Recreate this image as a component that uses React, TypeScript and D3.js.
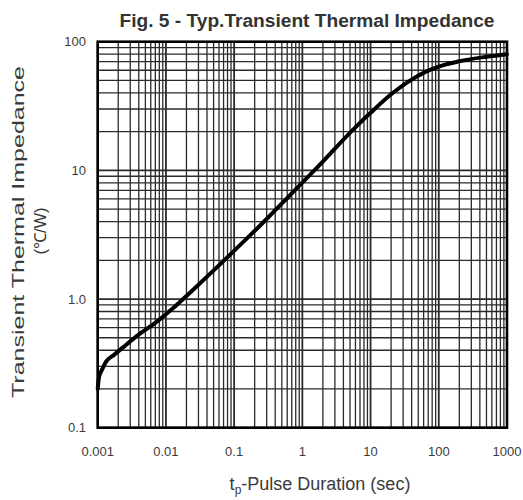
import React from "react";
import * as d3 from "d3";

const pulseDuration: number[] = [0.001, 0.00105, 0.00115, 0.00135, 0.0017, 0.0024, 0.0042, 0.0073, 0.0128, 0.0225, 0.0774, 0.315, 0.655, 1.5, 6.2, 10, 20, 35, 65, 100, 200, 500, 1000];
const impedance: number[] = [0.2, 0.25, 0.28, 0.33, 0.365, 0.425, 0.54, 0.665, 0.85, 1.12, 2.08, 4.3, 6.4, 10, 22, 28, 39, 48.5, 58.5, 64, 70.5, 76.4, 80];

const xTickValues: number[] = [0.001, 0.01, 0.1, 1, 10, 100, 1000];
const xTickLabels: string[] = ["0.001", "0.01", "0.1", "1", "10", "100", "1000"];
const yTickValues: number[] = [0.1, 1, 10, 100];
const yTickLabels: string[] = ["0.1", "1.0", "10", "100"];

const title = "Fig. 5 - Typ.Transient Thermal Impedance";
const yLabel1 = "Transient Thermal Impedance";
const yLabel2 = "(\u2103/W)";

export default function App() {
  const W = 523, H = 500;
  const left = 97.7, right = 507, top = 41.7, bottom = 427.7;
  const x = d3.scaleLog().domain([0.001, 1000]).range([left, right]);
  const y = d3.scaleLog().domain([0.1, 100]).range([bottom, top]);

  const xGrid: { v: number; major: boolean }[] = [];
  for (let e = -3; e < 3; e++) {
    for (let m = 1; m <= 9; m++) xGrid.push({ v: m * Math.pow(10, e), major: m === 1 });
  }
  const yGrid: { v: number; major: boolean }[] = [];
  for (let e = -1; e < 2; e++) {
    for (let m = 1; m <= 9; m++) yGrid.push({ v: m * Math.pow(10, e), major: m === 1 });
  }

  const line = d3
    .line<number>()
    .x((_, i) => x(pulseDuration[i]))
    .y((d) => y(d))
    .curve(d3.curveMonotoneX);

  const textColor = "#3a3a3a";

  return (
    <svg width={W} height={H} style={{ position: "absolute", left: 0, top: 0, background: "#fff" }} fontFamily="Liberation Sans, Arial, sans-serif">
      <rect width={W} height={H} fill="#fff" />
      <text x={307} y={27} textAnchor="middle" fontSize={17.5} fontWeight="bold" fill="#333" textLength={375} lengthAdjust="spacingAndGlyphs">{title}</text>
      {xGrid.map((g, i) => (
        <line key={"xg" + i} x1={x(g.v)} x2={x(g.v)} y1={top} y2={bottom} stroke="#2a2a2a" strokeWidth={g.major ? 1.8 : 1.3} />
      ))}
      {yGrid.map((g, i) => (
        <line key={"yg" + i} x1={left} x2={right} y1={y(g.v)} y2={y(g.v)} stroke="#2a2a2a" strokeWidth={g.major ? 1.8 : 1.3} />
      ))}
      <rect x={left} y={top} width={right - left} height={bottom - top} fill="none" stroke="#000" strokeWidth={2.6} />
      <path d={line(impedance) || ""} fill="none" stroke="#000" strokeWidth={4} strokeLinejoin="round" strokeLinecap="round" />
      {xTickValues.map((v, i) => (
        <text key={"xt" + i} x={x(v)} y={456} textAnchor="middle" fontSize={13} fill={textColor}>{xTickLabels[i]}</text>
      ))}
      {yTickValues.map((v, i) => (
        <text key={"yt" + i} x={86} y={y(v) + 4.5} textAnchor="end" fontSize={13} fill={textColor}>{yTickLabels[i]}</text>
      ))}
      <text transform="translate(24,232) rotate(-90)" textAnchor="middle" fontSize={17} fill={textColor} textLength={332} lengthAdjust="spacingAndGlyphs">{yLabel1}</text>
      <text transform="translate(46,231) rotate(-90)" textAnchor="middle" fontSize={16.5} fill={textColor}>{yLabel2}</text>
      <text x={320} y={490} textAnchor="middle" fontSize={18} fill={textColor}>
        t<tspan fontSize={12} dy={4}>p</tspan><tspan dy={-4}>-Pulse Duration (sec)</tspan>
      </text>
    </svg>
  );
}
